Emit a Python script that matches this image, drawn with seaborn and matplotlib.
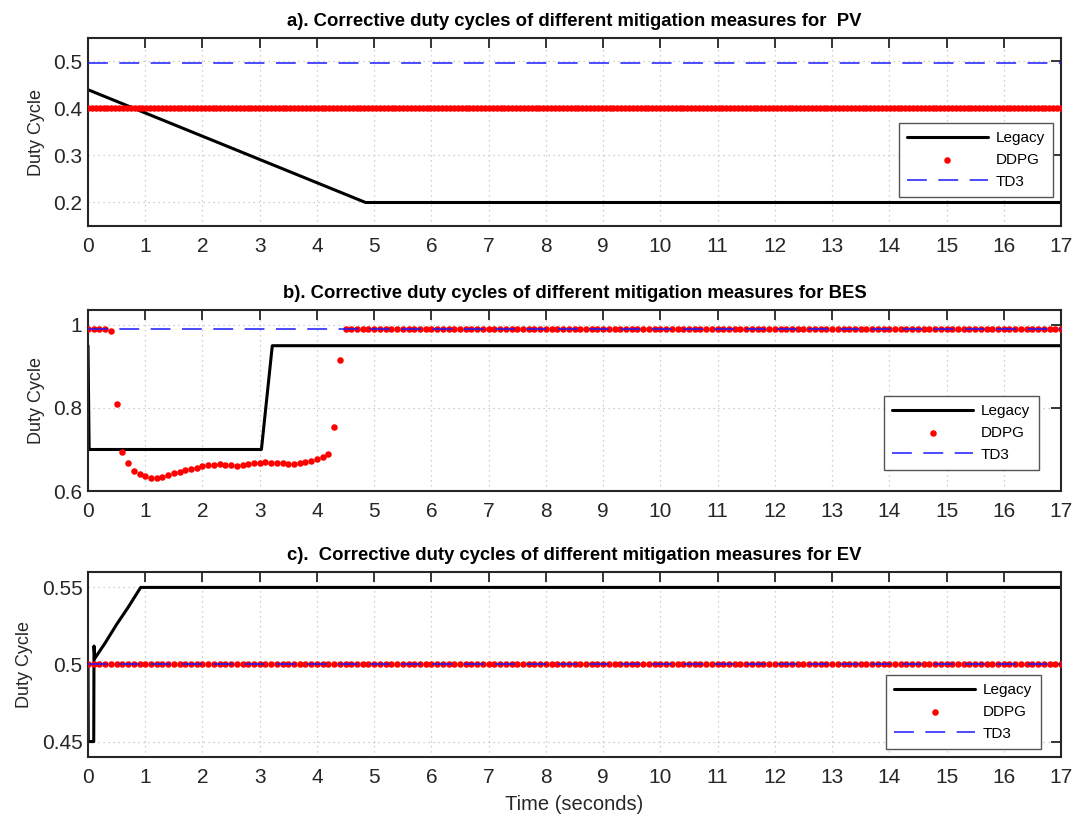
import numpy as np
import pandas as pd
import matplotlib
matplotlib.use("Agg")
import matplotlib.pyplot as plt
import seaborn as sns
from matplotlib.ticker import FuncFormatter

sns.set_theme(style="white")
plt.rcParams["font.family"] = ["Liberation Sans", "DejaVu Sans"]

# ---------------- data ----------------
T_END = 17
x_ticks = list(range(0, 18))

# a) PV
pv_legacy_t = [0, 4.85, 17]
pv_legacy_v = [0.44, 0.20, 0.20]
pv_ddpg_level = 0.40
pv_ddpg_step = 0.068
pv_td3_level = 0.496

# b) BES
bes_legacy_t = [0, 0.02, 3.03, 3.22, 17]
bes_legacy_v = [0.95, 0.70, 0.70, 0.95, 0.95]
bes_ddpg_step = 0.1
bes_ddpg_transient = [0.99, 0.99, 0.99, 0.99, 0.986, 0.810, 0.693, 0.667, 0.648,
                      0.640, 0.635, 0.632, 0.631, 0.634, 0.638, 0.643, 0.646, 0.650,
                      0.653, 0.656, 0.660, 0.662, 0.663, 0.664, 0.663, 0.662, 0.661,
                      0.662, 0.665, 0.667, 0.668, 0.669, 0.668, 0.668, 0.667, 0.666,
                      0.665, 0.668, 0.671, 0.673, 0.678, 0.681, 0.690, 0.755, 0.916]
bes_ddpg_level = 0.99
bes_td3_level = 0.99

# c) EV
ev_legacy_t = [0, 0.005, 0.10, 0.105, 0.12, 0.3, 0.5, 0.7, 0.92, 17]
ev_legacy_v = [0.50, 0.45, 0.45, 0.512, 0.504, 0.514, 0.526, 0.537, 0.55, 0.55]
ev_ddpg_step = 0.1
ev_ddpg_level = 0.50
ev_td3_level = 0.50

titles = ["a). Corrective duty cycles of different mitigation measures for  PV",
          "b). Corrective duty cycles of different mitigation measures for BES",
          "c).  Corrective duty cycles of different mitigation measures for EV"]

# ---------------- build frames ----------------
pv_t = np.arange(0, T_END + 1e-9, pv_ddpg_step)
pv_ddpg = pd.DataFrame({"t": pv_t, "v": np.full(len(pv_t), pv_ddpg_level)})
pv_td3 = pd.DataFrame({"t": [0, T_END], "v": [pv_td3_level, pv_td3_level]})
pv_leg = pd.DataFrame({"t": pv_legacy_t, "v": pv_legacy_v})

bes_t = np.round(np.arange(0, T_END + 1e-9, bes_ddpg_step), 3)
bes_v = np.full(len(bes_t), bes_ddpg_level)
bes_v[:len(bes_ddpg_transient)] = bes_ddpg_transient
bes_ddpg = pd.DataFrame({"t": bes_t, "v": bes_v})
bes_td3 = pd.DataFrame({"t": [0, T_END], "v": [bes_td3_level, bes_td3_level]})
bes_leg = pd.DataFrame({"t": bes_legacy_t, "v": bes_legacy_v})

ev_t = np.arange(0, T_END + 1e-9, ev_ddpg_step)
ev_ddpg = pd.DataFrame({"t": ev_t, "v": np.full(len(ev_t), ev_ddpg_level)})
ev_td3 = pd.DataFrame({"t": [0, T_END], "v": [ev_td3_level, ev_td3_level]})
ev_leg = pd.DataFrame({"t": ev_legacy_t, "v": ev_legacy_v})

panels = [
    dict(leg=pv_leg, ddpg=pv_ddpg, td3=pv_td3, ylim=(0.15, 0.55),
         yticks=[0.2, 0.3, 0.4, 0.5], lg=(0.992, 0.154)),
    dict(leg=bes_leg, ddpg=bes_ddpg, td3=bes_td3, ylim=(0.6, 1.036),
         yticks=[0.6, 0.8, 1.0], lg=(0.977, 0.116)),
    dict(leg=ev_leg, ddpg=ev_ddpg, td3=ev_td3, ylim=(0.44, 0.56),
         yticks=[0.45, 0.5, 0.55], lg=(0.979, 0.043)),
]

# ---------------- figure ----------------
fig = plt.figure(figsize=(10.76, 8.22), dpi=100)
boxes = [(38, 226), (310, 491), (572, 757)]
L, R = 88, 1061
W, H = 1076, 822
dark = "#262626"

for i, (p, (top, bot)) in enumerate(zip(panels, boxes)):
    ax = fig.add_axes([L / W, 1 - bot / H, (R - L) / W, (bot - top) / H])
    sns.lineplot(data=p["leg"], x="t", y="v", ax=ax, color="black", lw=2.2,
                 label="Legacy", estimator=None, sort=False)
    sns.scatterplot(data=p["ddpg"], x="t", y="v", ax=ax, color="red", s=22,
                    linewidth=0, label="DDPG", zorder=3)
    sns.lineplot(data=p["td3"], x="t", y="v", ax=ax, color="#1a1aff", lw=1.1,
                 linestyle=(0, (13, 7.5)), label="TD3", estimator=None, zorder=4)
    ax.set_xlim(0, T_END)
    ax.set_ylim(*p["ylim"])
    ax.set_xticks(x_ticks)
    ax.set_yticks(p["yticks"])
    ax.yaxis.set_major_formatter(FuncFormatter(lambda v, _: f"{v:g}"))
    ax.tick_params(direction="in", top=True, right=True, length=7, width=1.3,
                   labelsize=15, colors=dark)
    ax.tick_params(axis="x", pad=8)
    ax.tick_params(axis="y", pad=4)
    for s in ax.spines.values():
        s.set_color(dark)
        s.set_linewidth(1.5)
    ax.grid(True, linestyle=(0, (1, 3)), color="#c0c0c0", linewidth=0.9)
    ax.set_ylabel("Duty Cycle", fontsize=13, color=dark, labelpad=6)
    if i == 2:
        ax.set_xlabel("Time (seconds)", fontsize=14.5, color=dark, labelpad=6)
    else:
        ax.set_xlabel("")
    ax.set_title(titles[i], fontsize=13.3, fontweight="bold", color="black", pad=9)
    leg = ax.legend(loc="lower right", bbox_to_anchor=p["lg"], borderaxespad=0,
                    fontsize=11, frameon=True, fancybox=False, handlelength=5.3,
                    scatterpoints=1, edgecolor="#555555", framealpha=1,
                    labelspacing=0.5, handletextpad=0.5, borderpad=0.55)
    leg.get_frame().set_linewidth(1.0)
    for t in leg.get_texts():
        t.set_color("black")

fig.savefig("out.png", dpi=100)
